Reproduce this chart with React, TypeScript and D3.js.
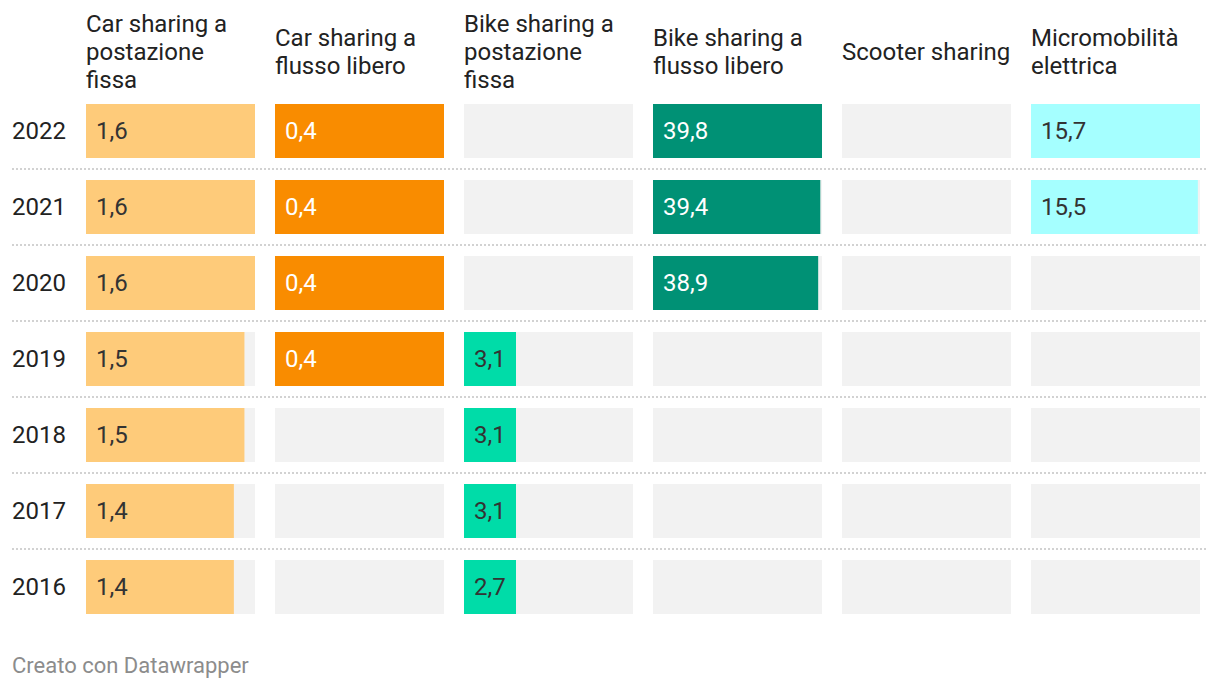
import { scaleLinear, scaleBand } from "d3";

// anni (righe)
const years = ["2022", "2021", "2020", "2019", "2018", "2017", "2016"];

// intestazioni delle colonne, già spezzate in righe
const headers = [
  ["Car sharing a", "postazione", "fissa"],
  ["Car sharing a", "flusso libero"],
  ["Bike sharing a", "postazione", "fissa"],
  ["Bike sharing a", "flusso libero"],
  ["Scooter sharing"],
  ["Micromobilità", "elettrica"],
];

// valori per colonna, ordine come years (null = nessun dato)
const carFissa = [1.6, 1.6, 1.6, 1.5, 1.5, 1.4, 1.4];
const carFlusso = [0.4, 0.4, 0.4, 0.4, null, null, null];
const bikeFissa = [null, null, null, 3.1, 3.1, 3.1, 2.7];
const bikeFlusso = [39.8, 39.4, 38.9, null, null, null, null];
const scooter = [null, null, null, null, null, null, null];
const micro = [15.7, 15.5, null, null, null, null, null];

const columns = [carFissa, carFlusso, bikeFissa, bikeFlusso, scooter, micro];
// le due colonne bike sharing condividono la scala
const scaleGroups = [[0], [1], [2, 3], [2, 3], [4], [5]];
const colors = ["#fecb7a", "#f98c00", "#00dca8", "#009175", "#a5ffff", "#a5ffff"];
const textColors = ["#333", "#fff", "#333", "#fff", "#333", "#333"];

const W = 1220;
const H = 690;
const FONT = "Roboto, 'Noto Sans', sans-serif";
const MIN_BAR = 52;

const fmt = (v: number) => v.toFixed(1).replace(".", ",");

export default function App() {
  const x = scaleBand<number>()
    .domain(columns.map((_, i) => i))
    .range([86, 86 + 189 * 5 + 169])
    .paddingInner(20 / 189)
    .paddingOuter(0);
  const bw = x.bandwidth();

  const y = scaleBand<string>()
    .domain(years)
    .range([104, 104 + 76 * (years.length - 1) + 54])
    .paddingInner(22 / 76)
    .paddingOuter(0);
  const bh = y.bandwidth();

  const colMax = scaleGroups.map((g) =>
    Math.max(0, ...g.flatMap((c) => columns[c].filter((v) => v != null) as number[]))
  );

  return (
    <svg
      width={W}
      height={H}
      style={{ position: "absolute", left: 0, top: 0, fontFamily: FONT }}
    >
      <rect width={W} height={H} fill="#fff" />

      {/* intestazioni */}
      {headers.map((lines, i) => {
        const mid = 60;
        const start = mid - ((lines.length - 1) * 28) / 2;
        const cx = x(i) as number;
        return (
          <text key={i} x={cx} fontSize={24} fill="#222">
            {lines.map((l, j) => (
              <tspan key={j} x={cx} y={start + j * 28}>
                {l}
              </tspan>
            ))}
          </text>
        );
      })}

      {/* separatori tratteggiati */}
      {years.slice(0, -1).map((yr) => (
        <line
          key={yr}
          x1={12}
          x2={1208}
          y1={(y(yr) as number) + bh + 11}
          y2={(y(yr) as number) + bh + 11}
          stroke="#d2d2d2"
          strokeWidth={2}
          strokeDasharray="2,2"
        />
      ))}

      {years.map((yr, r) => {
        const yy = y(yr) as number;
        return (
          <g key={yr}>
            <text x={12} y={yy + bh / 2 + 8} fontSize={24} fill="#222">
              {yr}
            </text>
            {columns.map((vals, c) => {
              const sx = scaleLinear().domain([0, colMax[c] || 1]).range([0, bw]);
              const v = vals[r];
              const cx = x(c) as number;
              return (
                <g key={c}>
                  <rect x={cx} y={yy} width={bw} height={bh} fill="#f2f2f2" />
                  {v != null && (
                    <>
                      <rect
                        x={cx}
                        y={yy}
                        width={Math.max(sx(v), MIN_BAR)}
                        height={bh}
                        fill={colors[c]}
                      />
                      <text
                        x={cx + 10}
                        y={yy + bh / 2 + 8}
                        fontSize={24}
                        fill={textColors[c]}
                      >
                        {fmt(v)}
                      </text>
                    </>
                  )}
                </g>
              );
            })}
          </g>
        );
      })}

      <text x={12} y={673} fontSize={22} fill="#8c8c8c">
        Creato con Datawrapper
      </text>
    </svg>
  );
}
